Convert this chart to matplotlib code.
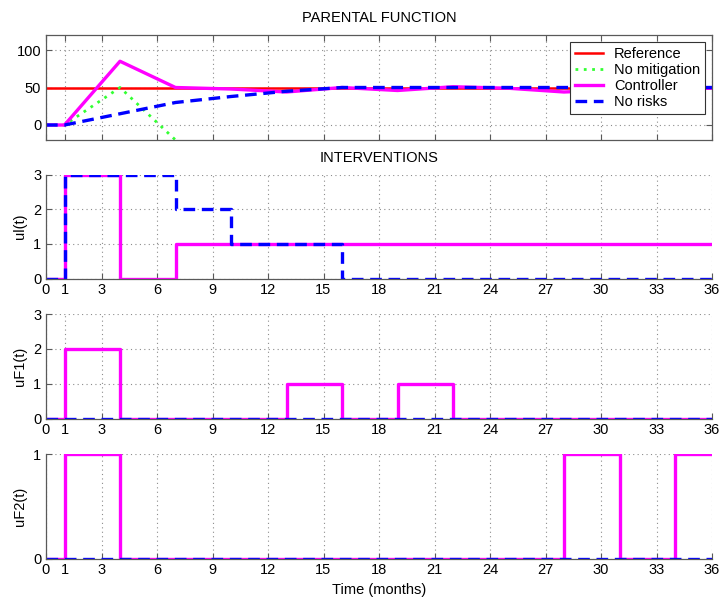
import numpy as np
import matplotlib
matplotlib.use("Agg")
import matplotlib.pyplot as plt

plt.rcParams['font.family'] = ['Liberation Sans', 'DejaVu Sans']
plt.rcParams['font.size'] = 10.5

# parental function (months)
t_pf = [0, 1, 4, 7, 10, 13, 16, 19, 22, 25, 28, 31, 34, 36]
pf_ref = [50, 50, 50, 50, 50, 50, 50, 50, 50, 50, 50, 50, 50, 50]
pf_ctrl = [0, 0, 85, 50, 48, 44, 50, 46, 51, 49, 44, 47, 49, 49]
pf_norisk = [0, 0, 15, 30, 38, 45, 50, 50, 50, 50, 50, 50, 50, 50]
t_nomit = [0, 1, 4, 7, 10]
pf_nomit = [0, 0, 50, -20, -90]

# interventions, stairs (value holds until next time)
t_ul_ctrl = [0, 1, 4, 7, 36]
ul_ctrl = [0, 3, 0, 1, 1]
t_ul_norisk = [0, 1, 7, 10, 16, 36]
ul_norisk = [0, 3, 2, 1, 0, 0]

t_uf1_ctrl = [0, 1, 4, 13, 16, 19, 22, 36]
uf1_ctrl = [0, 2, 0, 1, 0, 1, 0, 0]
t_uf2_ctrl = [0, 1, 4, 28, 31, 34, 36]
uf2_ctrl = [0, 1, 0, 1, 0, 1, 1]
t_zero = [0, 36]
u_zero = [0, 0]

xticks = [0, 1, 3, 6, 9, 12, 15, 18, 21, 24, 27, 30, 33, 36]

MAG = '#ff00ff'
BLUE = '#0000ff'
RED = '#ff0000'
GREEN = '#33ff33'
AXC = '0.35'
DASH = (0, (3.5, 2))

fig = plt.figure(figsize=(7.23, 6.01), dpi=100)
L, W = 46 / 723, 666 / 723
H = 105 / 601
ax1 = fig.add_axes([L, 1 - 140 / 601, W, H])
ax2 = fig.add_axes([L, 1 - 278.5 / 601, W, 104 / 601])
ax3 = fig.add_axes([L, 1 - 418.5 / 601, W, 104.5 / 601])
ax4 = fig.add_axes([L, 1 - 558.5 / 601, W, 104.5 / 601])


def style(ax, box):
    ax.set_xlim(0, 36)
    ax.set_xticks(xticks)
    ax.grid(True, linestyle=(0, (1, 3)), color='0.55', linewidth=0.8)
    ax.tick_params(direction='in', length=4, color=AXC, labelsize=10.5,
                   top=box, right=box)
    for s in ax.spines.values():
        s.set_color(AXC)
        s.set_linewidth(0.9)
    if not box:
        ax.spines['top'].set_visible(False)
        ax.spines['right'].set_visible(False)


# top panel
ax1.plot(t_pf, pf_ref, color=RED, lw=1.8, label='Reference')
ax1.plot(t_nomit, pf_nomit, color=GREEN, lw=2, ls=(0, (1, 2)), label='No mitigation')
ax1.plot(t_pf, pf_ctrl, color=MAG, lw=2.4, label='Controller')
ax1.plot(t_pf, pf_norisk, color=BLUE, lw=2.4, ls=DASH, label='No risks')
ax1.set_ylim(-20, 120)
ax1.set_yticks([0, 50, 100])
style(ax1, True)
ax1.set_xticklabels([])
ax1.set_title('PARENTAL FUNCTION', fontsize=10.5, pad=9)
leg = ax1.legend(loc='upper right', fontsize=10.5, frameon=True, fancybox=False,
                 edgecolor='0.2', framealpha=1, labelspacing=0.15,
                 handlelength=1.9, borderaxespad=0.5, borderpad=0.3)
leg.get_frame().set_linewidth(0.8)

# ul
ax2.step(t_ul_ctrl, ul_ctrl, where='post', color=MAG, lw=2.4)
ax2.step(t_ul_norisk, ul_norisk, where='post', color=BLUE, lw=2.4, ls=DASH)
ax2.set_ylim(0, 3)
ax2.set_yticks([0, 1, 2, 3])
ax2.set_ylabel('ul(t)')
style(ax2, False)
ax2.set_title('INTERVENTIONS', fontsize=10.5, pad=9)

# uF1
ax3.step(t_uf1_ctrl, uf1_ctrl, where='post', color=MAG, lw=2.4)
ax3.step(t_zero, u_zero, where='post', color=BLUE, lw=2.4, ls=DASH)
ax3.set_ylim(0, 3)
ax3.set_yticks([0, 1, 2, 3])
ax3.set_ylabel('uF1(t)')
style(ax3, False)

# uF2
ax4.step(t_uf2_ctrl, uf2_ctrl, where='post', color=MAG, lw=2.4)
ax4.step(t_zero, u_zero, where='post', color=BLUE, lw=2.4, ls=DASH)
ax4.set_ylim(0, 1)
ax4.set_yticks([0, 1])
ax4.set_ylabel('uF2(t)')
ax4.set_xlabel('Time (months)', labelpad=4)
style(ax4, False)

for ax in (ax2, ax3, ax4):
    ax.yaxis.set_label_coords(-0.029, 0.5)

fig.savefig('out.png', dpi=100)
